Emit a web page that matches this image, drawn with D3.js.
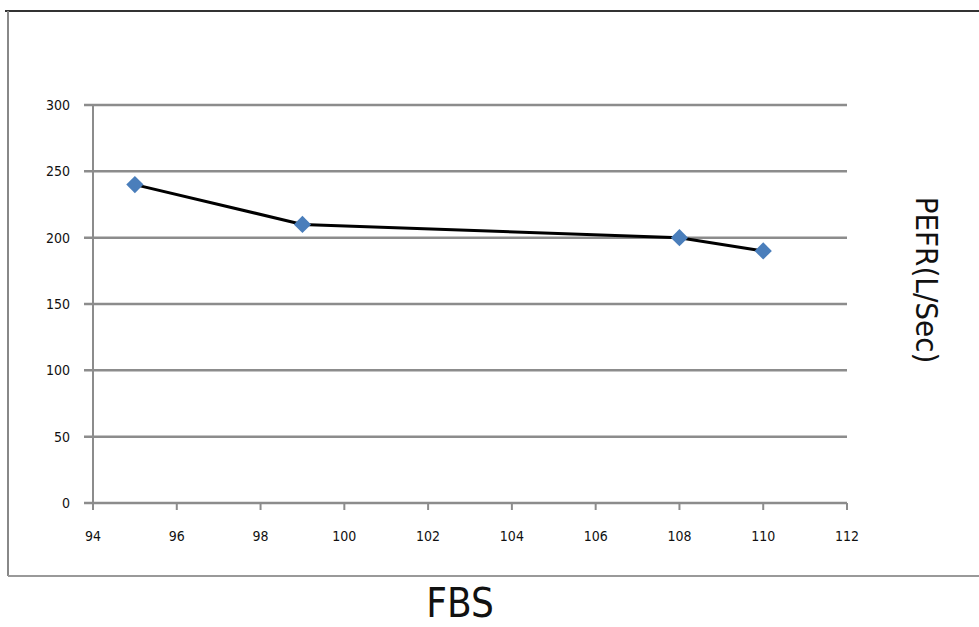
<!DOCTYPE html>
<html>
<head>
  <title>PEFR vs FBS</title>
  <script src="https://d3js.org/d3.v7.min.js"></script>
  <style>
    body { margin: 0; background: #fff; }
    text { font-family: "DejaVu Sans Condensed", "Liberation Sans Narrow", sans-serif; }
  </style>
</head>
<body>

<script>
const fbs = [95, 99, 108, 110];
const pefr = [240, 210, 200, 190];
const xTicks = [94, 96, 98, 100, 102, 104, 106, 108, 110, 112];
const yTicks = [0, 50, 100, 150, 200, 250, 300];

const width = 979;
const height = 627;
const margin = { top: 105, right: 132, bottom: 124, left: 93 };

const svg = d3.select('body')
  .append('svg')
  .attr('width', width)
  .attr('height', height);

// frame of the original picture
svg.append('line').attr('x1', 5).attr('x2', width).attr('y1', 11).attr('y2', 11)
  .attr('stroke', '#333').attr('stroke-width', 2);
svg.append('line').attr('x1', 8).attr('x2', 8).attr('y1', 11).attr('y2', 576)
  .attr('stroke', '#888').attr('stroke-width', 2);
svg.append('line').attr('x1', 8).attr('x2', width).attr('y1', 576).attr('y2', 576)
  .attr('stroke', '#999').attr('stroke-width', 2);

const x = d3.scaleLinear().domain([94, 112]).range([margin.left, width - margin.right]);
const y = d3.scaleLinear().domain([0, 300]).range([height - margin.bottom, margin.top]);

const g = svg.append('g');

// gridlines
g.selectAll('.grid')
  .data(yTicks)
  .enter().append('line')
    .attr('class', 'grid')
    .attr('x1', x(94) - 9)
    .attr('x2', x(112))
    .attr('y1', d => y(d))
    .attr('y2', d => y(d))
    .attr('stroke', '#8c8c8c')
    .attr('stroke-width', 2.5);

// y axis line
g.append('line')
  .attr('x1', x(94)).attr('x2', x(94))
  .attr('y1', y(300)).attr('y2', y(0))
  .attr('stroke', '#8c8c8c').attr('stroke-width', 2);

// x ticks
g.selectAll('.xtick')
  .data(xTicks)
  .enter().append('line')
    .attr('x1', d => x(d)).attr('x2', d => x(d))
    .attr('y1', y(0)).attr('y2', y(0) + 7)
    .attr('stroke', '#8c8c8c').attr('stroke-width', 2);

g.selectAll('.xlabel')
  .data(xTicks)
  .enter().append('text')
    .attr('x', d => x(d))
    .attr('y', y(0) + 38)
    .attr('text-anchor', 'middle')
    .attr('font-size', 14)
    .attr('fill', '#111')
    .text(d => d);

g.selectAll('.ylabel')
  .data(yTicks)
  .enter().append('text')
    .attr('x', x(94) - 23)
    .attr('y', d => y(d) + 5)
    .attr('text-anchor', 'end')
    .attr('font-size', 14)
    .attr('fill', '#111')
    .text(d => d);

const pts = fbs.map((v, i) => [v, pefr[i]]);

g.append('path')
  .datum(pts)
  .attr('fill', 'none')
  .attr('stroke', '#000')
  .attr('stroke-width', 3)
  .attr('d', d3.line().x(d => x(d[0])).y(d => y(d[1])));

g.selectAll('.pt')
  .data(pts)
  .enter().append('path')
    .attr('transform', d => `translate(${x(d[0])},${y(d[1])})`)
    .attr('d', d3.symbol(d3.symbolDiamond2, 190))
    .attr('fill', '#4a7ebb');

svg.append('text')
  .attr('x', 460)
  .attr('y', 617)
  .attr('text-anchor', 'middle')
  .attr('font-size', 40)
  .attr('fill', '#111')
  .text('FBS');

svg.append('text')
  .attr('transform', `translate(916,280) rotate(90)`)
  .attr('text-anchor', 'middle')
  .attr('font-size', 31)
  .attr('fill', '#111')
  .text('PEFR(L/Sec)');
</script>

</body>
</html>
